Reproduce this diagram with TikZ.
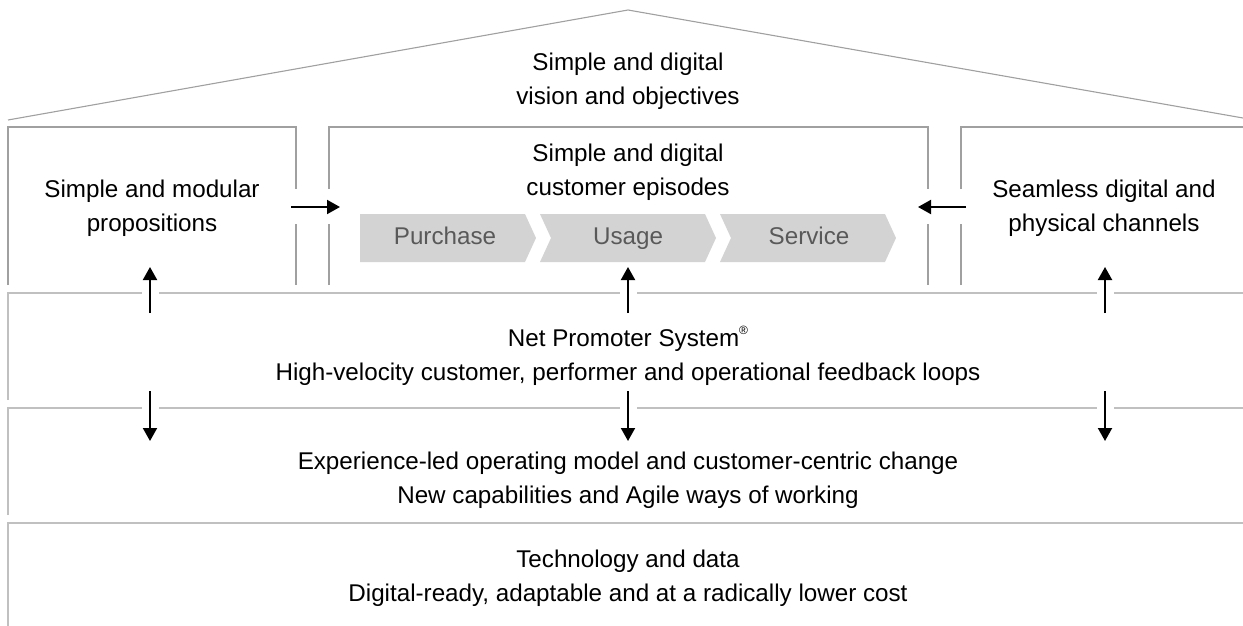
\documentclass[tikz,border=0pt]{standalone}
\usepackage{fontspec}
\setmainfont{Liberation Sans}
\usetikzlibrary{arrows.meta}
\definecolor{boxline}{RGB}{160,160,160}
\definecolor{bandline}{RGB}{192,192,192}
\definecolor{chevfill}{RGB}{211,211,211}
\definecolor{chevtext}{RGB}{89,89,89}
\tikzset{
  boxln/.style={draw=boxline, line width=1.3pt},
  bandln/.style={draw=bandline, line width=2pt},
  flow/.style={line width=2pt, -{Triangle[length=13pt,width=14pt]}},
  lbl/.style={font=\fontsize{24.2}{34}\selectfont, align=center, inner sep=0pt},
  chevlbl/.style={font=\fontsize{24.2}{34}\selectfont, inner sep=0pt, text=chevtext, text height=17pt, text depth=5pt},
  chevshape/.style={fill=chevfill, draw=none}
}
\begin{document}
\begin{tikzpicture}[x=1pt,y=-1pt]
\useasboundingbox (0,0) rectangle (1243,626);
% roof
\draw[boxln, line width=1.1pt] (8,120) -- (628,10) -- (1243,118);
% top boxes
\draw[boxln] (8,285) -- (8,127) -- (296,127) -- (296,189);
\draw[boxln] (296,224) -- (296,285);
\draw[boxln] (329,285) -- (329,224);
\draw[boxln] (329,189) -- (329,127) -- (928,127) -- (928,189);
\draw[boxln] (928,224) -- (928,285);
\draw[boxln] (961,285) -- (961,224);
\draw[boxln] (961,189) -- (961,127) -- (1243,127);
% bands
\draw[bandln] (8,400) -- (8,293) -- (142,293);
\draw[bandln] (159,293) -- (620,293);
\draw[bandln] (637,293) -- (1097,293);
\draw[bandln] (1114,293) -- (1243,293);
\draw[bandln] (8,515) -- (8,408) -- (142,408);
\draw[bandln] (159,408) -- (620,408);
\draw[bandln] (637,408) -- (1097,408);
\draw[bandln] (1114,408) -- (1243,408);
\draw[bandln] (8,626) -- (8,523) -- (1243,523);
% chevrons
\fill[chevshape] (360,214) -- (525,214) -- (536,238) -- (525,262) -- (360,262) -- cycle;
\fill[chevshape] (540,214) -- (705,214) -- (716,238) -- (705,262) -- (540,262) -- (551,238) -- cycle;
\fill[chevshape] (720,214) -- (885,214) -- (896,238) -- (885,262) -- (720,262) -- (731,238) -- cycle;
\node[chevlbl] (purchase) at (445,238) {Purchase};
\node[chevlbl] (usage) at (628,238) {Usage};
\node[chevlbl] (service) at (809,238) {Service};
% labels
\node[lbl] (vision) at (628,81.5) {Simple and digital\\vision and objectives};
\node[lbl] (props) at (152,208) {Simple and modular\\propositions};
\node[lbl] (episodes) at (628,172) {Simple and digital\\customer episodes};
\node[lbl] (channels) at (1104,208) {Seamless digital and\\physical channels};
\node[lbl] (nps) at (628,356) {Net Promoter System\raisebox{0.5em}{\fontsize{12}{12}\selectfont ®}\\High-velocity customer, performer and operational feedback loops};
\node[lbl] (opmodel) at (628,480) {Experience-led operating model and customer-centric change\\New capabilities and Agile ways of working};
\node[lbl] (tech) at (628,578) {Technology and data\\Digital-ready, adaptable and at a radically lower cost};
% arrow end points
\coordinate (hL1) at (291,207); \coordinate (hL2) at (340,207);
\coordinate (hR1) at (966,207); \coordinate (hR2) at (918,207);
\coordinate (uA1) at (150,313); \coordinate (uA2) at (150,267);
\coordinate (uB1) at (628,313); \coordinate (uB2) at (628,267);
\coordinate (uC1) at (1105,313); \coordinate (uC2) at (1105,267);
\coordinate (dA1) at (150,391); \coordinate (dA2) at (150,441);
\coordinate (dB1) at (628,391); \coordinate (dB2) at (628,441);
\coordinate (dC1) at (1105,391); \coordinate (dC2) at (1105,441);
\draw[flow] (hL1) -- (hL2);
\draw[flow] (hR1) -- (hR2);
\draw[flow] (uA1) -- (uA2);
\draw[flow] (uB1) -- (uB2);
\draw[flow] (uC1) -- (uC2);
\draw[flow] (dA1) -- (dA2);
\draw[flow] (dB1) -- (dB2);
\draw[flow] (dC1) -- (dC2);
\end{tikzpicture}
\end{document}
